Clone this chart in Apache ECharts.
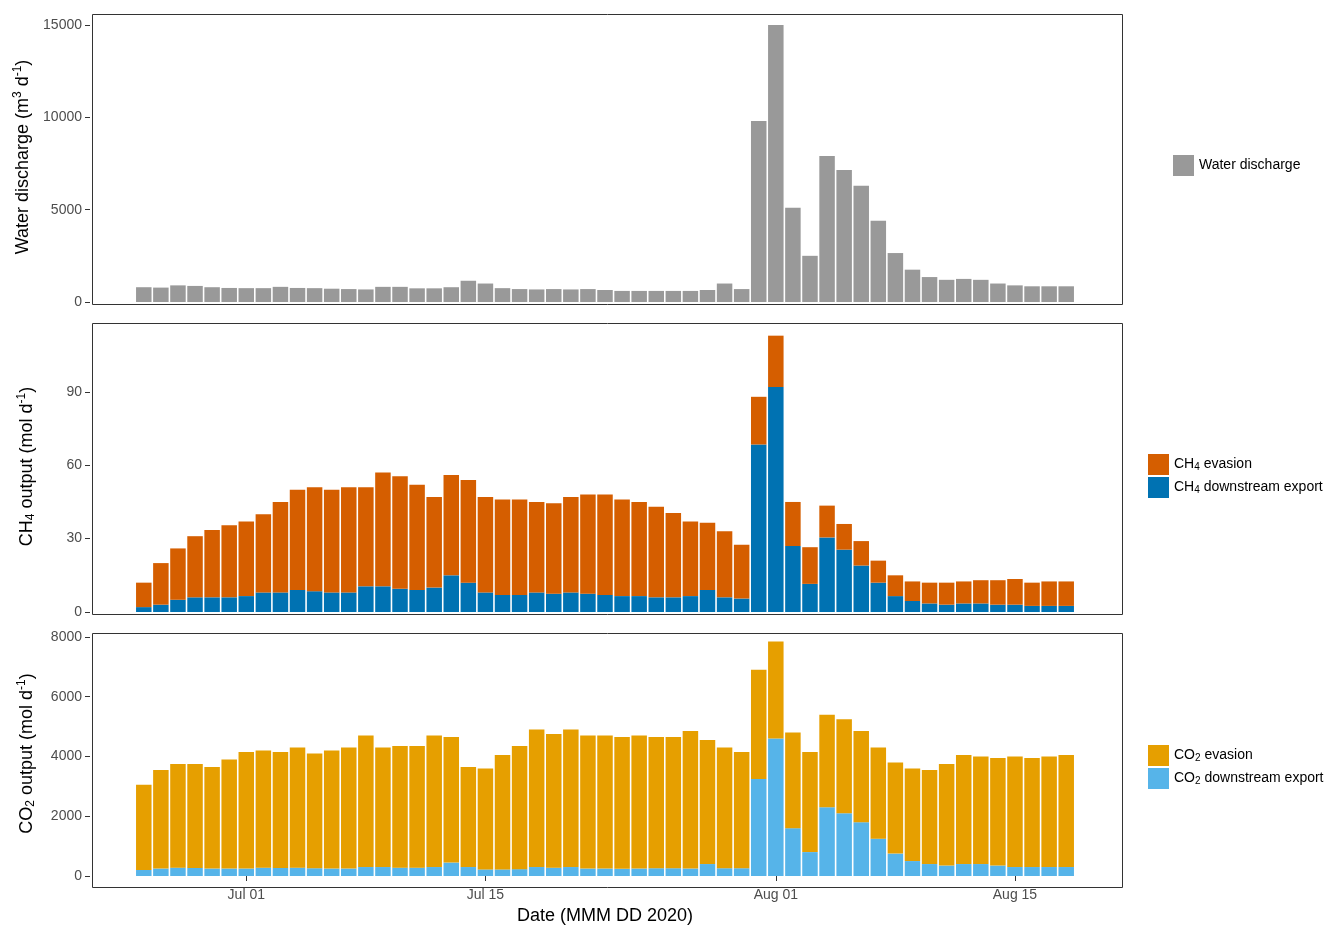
<!DOCTYPE html>
<html><head><meta charset="utf-8">
<script src="https://cdn.jsdelivr.net/npm/echarts@6/dist/echarts.min.js"></script>
<style>html,body{margin:0;background:#fff}#main{width:1342px;height:926px}</style>
</head><body><div id="main"></div>
<script>
// day index 0 = Jun 25 2020; axis runs from day -3 to day 57
var firstDay = -3, lastDay = 57;
var tickDays = [6, 20, 37, 51];
var tickLabels = ['Jul 01', 'Jul 15', 'Aug 01', 'Aug 15'];

var discharge = [800,780,900,870,800,760,750,750,820,760,750,720,700,680,820,820,740,740,800,1150,1000,750,700,680,700,680,700,650,600,600,600,600,600,650,1000,700,
  9800,15000,5100,2500,7900,7150,6300,4400,2650,1750,1350,1200,1250,1200,1000,900,850,850,850];

var ch4Export = [2,3,5,6,6,6,6.5,8,8,9,8.5,8,8,10.5,10.5,9.5,9,10,15,12,8,7,7,8,7.5,8,7.5,7,6.5,6.5,6,6,6.5,9,6,5.5,
  68.5,92,27,11.5,30.5,25.5,19,12,6.5,4.5,3.5,3,3.5,3.5,3,3,2.5,2.5,2.5];
var ch4Evasion = [10,17,21,25,27.5,29.5,30.5,32,37,41,42.5,42,43,40.5,46.5,46,43,37,41,42,39,39,39,37,37,39,40.5,41,39.5,38.5,37,34.5,30.5,27.5,27,22,
  19.5,21,18,15,13,10.5,10,9,8.5,8,8.5,9,9,9.5,10,10.5,9.5,10,10];

var co2Export = [200,250,280,270,250,250,250,280,270,280,260,250,250,300,300,280,280,300,450,300,220,220,230,300,280,300,250,250,240,250,260,260,250,400,260,260,
  3250,4600,1600,800,2300,2100,1800,1250,750,500,400,350,400,400,350,300,300,300,300];
var co2Evasion = [2850,3300,3470,3480,3400,3650,3900,3920,3880,4020,3840,3950,4050,4400,4000,4070,4070,4400,4200,3350,3380,3830,4120,4600,4470,4600,4450,4450,4410,4450,4390,4390,4600,4150,4040,3890,
  3650,3250,3200,3350,3100,3150,3050,3050,3050,3100,3150,3400,3650,3600,3600,3700,3650,3700,3750];

var cats = [];
for (var d = firstDay; d <= lastDay; d++) cats.push(d);
function pad(a){
  var out = [];
  for (var d = firstDay; d <= lastDay; d++) out.push(d >= 0 && d < a.length ? a[d] : '-');
  return out;
}
function isTick(idx){ return tickDays.indexOf(idx + firstDay) >= 0; }

// grids are a bit wider than the drawn panel frames so the day spacing matches
var grids = [
  {left:84, right:216, top:12, height:290},
  {left:84, right:216, top:321, height:291},
  {left:84, right:216, top:631, height:254}
];
var axColor = '#333';
var rich = {sup:{fontSize:12,padding:[0,0,10,0],color:'#000'}, sub:{fontSize:12,padding:[0,0,-8,0],color:'#000'},
  lsub:{fontSize:10,padding:[0,0,-6,0],color:'#000'}};

function xAxis(i){
  return {gridIndex:i, type:'category', data:cats, boundaryGap:true,
    axisLine:{show:false}, splitLine:{show:false},
    axisTick:{show:i===2, length:5, alignWithLabel:true, interval:isTick, lineStyle:{color:axColor}},
    axisLabel:{show:i===2, interval:isTick, color:'#4d4d4d', fontSize:14, margin:12,
      formatter:function(v){ var k = tickDays.indexOf(Number(v)); return k >= 0 ? tickLabels[k] : ''; }},
    name: i===2 ? 'Date (MMM DD 2020)' : '', nameLocation:'middle', nameGap:31,
    nameTextStyle:{fontSize:18, color:'#000'}};
}
function yAxis(i, max, ticks, name){
  return {gridIndex:i, type:'value', min:0, max:max, offset:-6,
    axisLine:{show:false, onZero:false}, splitLine:{show:false},
    axisTick:{show:true, length:5, customValues:ticks, lineStyle:{color:axColor}},
    axisLabel:{color:'#4d4d4d', fontSize:14, customValues:ticks, formatter:function(v){ return String(v); }},
    name:name, nameLocation:'middle', nameGap:52, nameRotate:90,
    nameTextStyle:{fontSize:18, color:'#000', rich:rich}};
}
function border(g){
  return {type:'rect', left:90, top:g.top, shape:{width:1030, height:g.height},
    style:{fill:'none', stroke:'#333', lineWidth:1}, silent:true, z:10};
}

var chart = echarts.init(document.getElementById('main'));
chart.setOption({
  animation:false,
  textStyle:{fontFamily:'Liberation Sans, Arial, sans-serif'},
  grid:grids,
  graphic:grids.map(border),
  xAxis:[xAxis(0), xAxis(1), xAxis(2)],
  yAxis:[
    yAxis(0, 15700, [0,5000,10000,15000], 'Water discharge (m{sup|3} d{sup|-1})'),
    yAxis(1, 119, [0,30,60,90], 'CH{sub|4} output (mol d{sup|-1})'),
    yAxis(2, 8200, [0,2000,4000,6000,8000], 'CO{sub|2} output (mol d{sup|-1})')
  ],
  legend:[
    {data:['Water discharge'], left:1168, top:150, itemWidth:21, itemHeight:21, itemGap:4,
      textStyle:{fontSize:14, color:'#000'}, icon:'rect'},
    {data:['CH4 evasion','CH4 downstream export'], left:1143, top:449, orient:'vertical', itemWidth:21, itemHeight:21, itemGap:2, icon:'rect',
      formatter:function(n){ return n.replace('CH4','CH{lsub|4}'); },
      textStyle:{fontSize:14, color:'#000', width:155, align:'right', rich:rich}},
    {data:['CO2 evasion','CO2 downstream export'], left:1143, top:740, orient:'vertical', itemWidth:21, itemHeight:21, itemGap:2, icon:'rect',
      formatter:function(n){ return n.replace('CO2','CO{lsub|2}'); },
      textStyle:{fontSize:14, color:'#000', width:155, align:'right', rich:rich}}
  ],
  series:[
    {name:'Water discharge', type:'bar', xAxisIndex:0, yAxisIndex:0, data:pad(discharge), barWidth:15.5, itemStyle:{color:'#999999'}},
    {name:'CH4 downstream export', type:'bar', stack:'ch4', xAxisIndex:1, yAxisIndex:1, data:pad(ch4Export), barWidth:15.5, itemStyle:{color:'#0072B2'}},
    {name:'CH4 evasion', type:'bar', stack:'ch4', xAxisIndex:1, yAxisIndex:1, data:pad(ch4Evasion), barWidth:15.5, itemStyle:{color:'#D55E00'}},
    {name:'CO2 downstream export', type:'bar', stack:'co2', xAxisIndex:2, yAxisIndex:2, data:pad(co2Export), barWidth:15.5, itemStyle:{color:'#56B4E9'}},
    {name:'CO2 evasion', type:'bar', stack:'co2', xAxisIndex:2, yAxisIndex:2, data:pad(co2Evasion), barWidth:15.5, itemStyle:{color:'#E69F00'}}
  ]
});
</script></body></html>
